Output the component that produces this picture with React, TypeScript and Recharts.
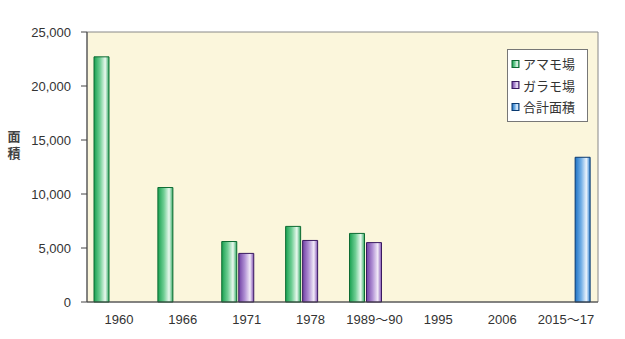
import { BarChart, Bar, XAxis, YAxis, ReferenceArea } from 'recharts';

const categories = ['1960', '1966', '1971', '1978', '1989～90', '1995', '2006', '2015～17'];
const amamo = [22700, 10600, 5600, 7000, 6350, null, null, null];
const garamo = [null, null, 4500, 5700, 5500, null, null, null];
const total = [null, null, null, null, null, null, null, 13400];
const yTicks = [0, 5000, 10000, 15000, 20000, 25000];

const seriesNames = ['アマモ場', 'ガラモ場', '合計面積'];
const seriesKeys = ['amamo', 'garamo', 'total'];
const gradIds = ['gGreen', 'gPurple', 'gBlue'];
const strokes = ['#0d6b33', '#3a1a60', '#0a3a70'];

const rows = categories.map((name, i) => ({
    name,
    amamo: amamo[i],
    garamo: garamo[i],
    total: total[i],
}));

const font = '"Liberation Sans", "Noto Sans CJK JP", sans-serif';

function LegendBox() {
    return (
        <div style={{
            position: 'absolute', left: 507, top: 49, width: 79, height: 68,
            background: '#fff', border: '1px solid #777',
            fontFamily: font, fontSize: 13, color: '#333', paddingTop: 3, boxSizing: 'content-box'
        }}>
            {seriesNames.map((n, i) => (
                <div key={n} style={{ display: 'flex', alignItems: 'center', height: 21.5 }}>
                    <svg width={12} height={10} style={{ marginLeft: 3 }}>
                        <rect x={1} y={1.5} width={7} height={7} fill={`url(#${gradIds[i]})`} stroke={strokes[i]} />
                    </svg>
                    <span>{n}</span>
                </div>
            ))}
        </div>
    );
}

function grad(id, c0, c1, c2, c3) {
    return (
        <linearGradient id={id} x1="0" y1="0" x2="1" y2="0">
            <stop offset="0%" stopColor={c0} />
            <stop offset="40%" stopColor={c1} />
            <stop offset="75%" stopColor={c2} />
            <stop offset="100%" stopColor={c3} />
        </linearGradient>
    );
}

export default function App() {
    return (
        <div style={{ position: 'absolute', left: 0, top: 0, width: 625, height: 339, background: '#fff' }}>
            <div style={{
                position: 'absolute', left: 7, top: 128, width: 14, fontFamily: font,
                fontWeight: 'bold', fontSize: 13, lineHeight: '17px', color: '#444', textAlign: 'center'
            }}>
                面<br />積
            </div>
            <BarChart
                width={625}
                height={339}
                data={rows}
                barSize={15}
                barGap={2}
                margin={{ top: 32, right: 27, bottom: 7, left: 0 }}
            >
                <defs>
                    {grad('gGreen', '#18a050', '#6fce94', '#eaf8ef', '#30aa62')}
                    {grad('gPurple', '#7040a4', '#b090d4', '#f2eaf8', '#8050b4')}
                    {grad('gBlue', '#1e72c4', '#70aee6', '#eaf3fc', '#3084d4')}
                </defs>
                <ReferenceArea y1={0} y2={25000} fill="#fbf6dc" fillOpacity={1} stroke="#888" strokeWidth={1} />
                <XAxis
                    dataKey="name"
                    height={30}
                    axisLine={{ stroke: '#444' }}
                    tickLine={false}
                    tick={{ fill: '#333', fontSize: 13, fontFamily: font }}
                    tickMargin={7}
                />
                <YAxis
                    width={87}
                    domain={[0, 25000]}
                    ticks={yTicks}
                    tickFormatter={(v) => v.toLocaleString('en-US')}
                    axisLine={{ stroke: '#444' }}
                    tickLine={{ stroke: '#444' }}
                    tickSize={6}
                    tickMargin={10}
                    tick={{ fill: '#333', fontSize: 13, fontFamily: font }}
                />
                {seriesKeys.map((k, i) => (
                    <Bar
                        key={k}
                        dataKey={k}
                        name={seriesNames[i]}
                        fill={`url(#${gradIds[i]})`}
                        stroke={strokes[i]}
                        strokeWidth={1}
                        isAnimationActive={false}
                    />
                ))}
            </BarChart>
            <LegendBox />
        </div>
    );
}
